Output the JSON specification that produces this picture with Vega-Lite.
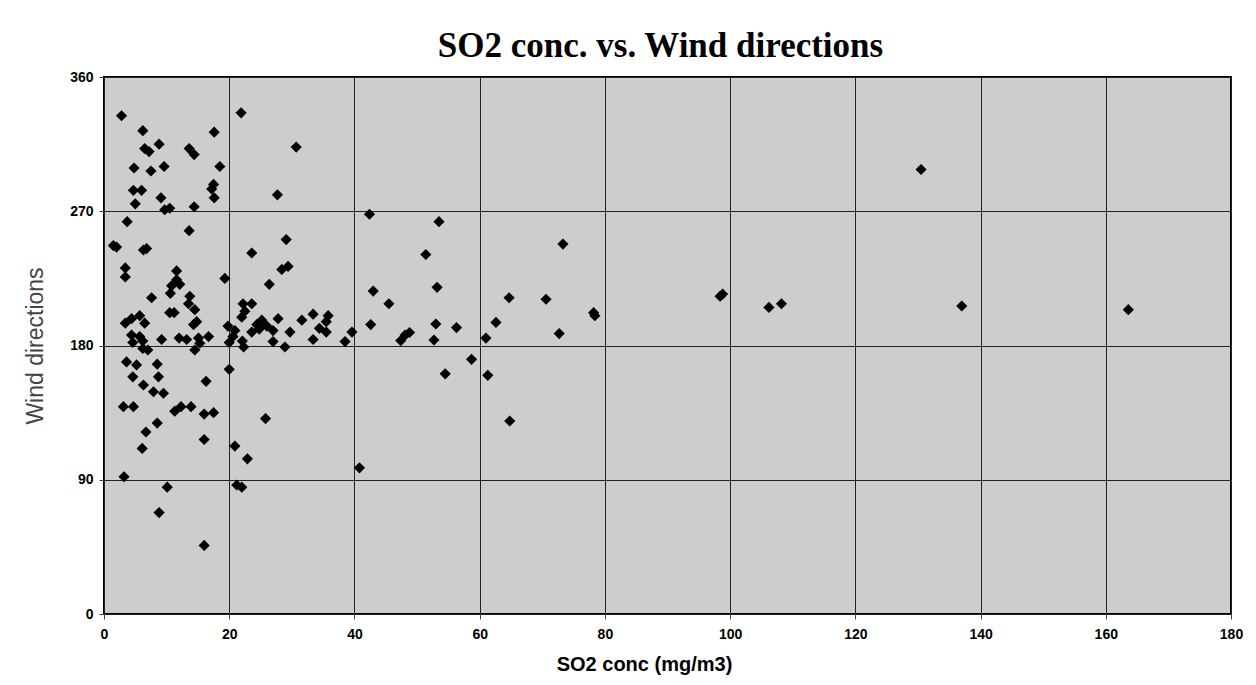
{
  "$schema": "https://vega.github.io/schema/vega-lite/v6.json",
  "width": 1127,
  "height": 537,
  "autosize": {"type": "none"},
  "padding": {"left": 104, "top": 77, "right": 25, "bottom": 71},
  "background": "white",
  "title": {
    "text": "SO2 conc. vs. Wind directions",
    "font": "Liberation Serif",
    "fontSize": 35,
    "fontWeight": "bold",
    "color": "black",
    "anchor": "middle",
    "offset": 6,
    "dx": -7
  },
  "config": {
    "view": {"fill": "#cdcdcd", "stroke": "black", "strokeWidth": 2},
    "axis": {
      "grid": true,
      "gridColor": "#222222",
      "gridWidth": 1,
      "gridOpacity": 1,
      "domain": false,
      "ticks": true,
      "tickColor": "#444444",
      "tickSize": 5,
      "labelFlush": false,
      "labelFont": "Liberation Sans Narrow, Liberation Sans, sans-serif",
      "labelFontWeight": "bold",
      "labelFontSize": 14,
      "labelColor": "black"
    }
  },
  "data": {
    "values": [
      {"so2": 2.8, "dir": 334}, {"so2": 6.2, "dir": 324}, {"so2": 17.6, "dir": 323},
      {"so2": 6.5, "dir": 312}, {"so2": 7.2, "dir": 310}, {"so2": 8.8, "dir": 315},
      {"so2": 13.6, "dir": 312}, {"so2": 14.4, "dir": 308}, {"so2": 4.8, "dir": 299},
      {"so2": 7.5, "dir": 297}, {"so2": 9.6, "dir": 300}, {"so2": 18.5, "dir": 300},
      {"so2": 4.7, "dir": 284}, {"so2": 6.0, "dir": 284}, {"so2": 5.0, "dir": 275},
      {"so2": 17.5, "dir": 288}, {"so2": 17.2, "dir": 285}, {"so2": 17.6, "dir": 279},
      {"so2": 9.1, "dir": 279}, {"so2": 9.7, "dir": 271}, {"so2": 10.5, "dir": 272},
      {"so2": 14.4, "dir": 273}, {"so2": 3.7, "dir": 263}, {"so2": 13.6, "dir": 257},
      {"so2": 1.5, "dir": 247}, {"so2": 2.0, "dir": 246}, {"so2": 6.3, "dir": 244},
      {"so2": 6.8, "dir": 245}, {"so2": 3.4, "dir": 232}, {"so2": 3.4, "dir": 226},
      {"so2": 11.6, "dir": 230}, {"so2": 11.6, "dir": 224}, {"so2": 10.8, "dir": 220},
      {"so2": 12.1, "dir": 221}, {"so2": 19.3, "dir": 225}, {"so2": 10.6, "dir": 215},
      {"so2": 13.7, "dir": 213}, {"so2": 13.5, "dir": 208}, {"so2": 14.5, "dir": 204},
      {"so2": 7.6, "dir": 212}, {"so2": 10.5, "dir": 202}, {"so2": 11.2, "dir": 202},
      {"so2": 14.8, "dir": 196}, {"so2": 14.3, "dir": 194}, {"so2": 3.4, "dir": 195},
      {"so2": 4.4, "dir": 198}, {"so2": 5.7, "dir": 200}, {"so2": 6.5, "dir": 195},
      {"so2": 4.4, "dir": 187}, {"so2": 5.7, "dir": 186}, {"so2": 4.6, "dir": 182},
      {"so2": 6.2, "dir": 183}, {"so2": 7.0, "dir": 177}, {"so2": 6.2, "dir": 178},
      {"so2": 9.2, "dir": 184}, {"so2": 12.0, "dir": 185}, {"so2": 13.2, "dir": 184},
      {"so2": 15.1, "dir": 185}, {"so2": 15.3, "dir": 181.5}, {"so2": 14.5, "dir": 177},
      {"so2": 16.7, "dir": 186}, {"so2": 3.6, "dir": 169}, {"so2": 5.2, "dir": 167},
      {"so2": 8.5, "dir": 167.5}, {"so2": 4.6, "dir": 159}, {"so2": 8.7, "dir": 159},
      {"so2": 16.3, "dir": 156}, {"so2": 6.3, "dir": 153.5}, {"so2": 7.9, "dir": 149},
      {"so2": 9.5, "dir": 148}, {"so2": 3.1, "dir": 139}, {"so2": 4.7, "dir": 139},
      {"so2": 11.3, "dir": 136}, {"so2": 12.3, "dir": 139}, {"so2": 13.9, "dir": 139},
      {"so2": 16.0, "dir": 134}, {"so2": 17.5, "dir": 135}, {"so2": 8.5, "dir": 128},
      {"so2": 6.7, "dir": 122}, {"so2": 16.0, "dir": 117}, {"so2": 6.1, "dir": 111},
      {"so2": 3.2, "dir": 92}, {"so2": 10.1, "dir": 85}, {"so2": 8.8, "dir": 68},
      {"so2": 16.0, "dir": 46},
      {"so2": 21.9, "dir": 336}, {"so2": 30.7, "dir": 313}, {"so2": 27.7, "dir": 281},
      {"so2": 29.1, "dir": 251}, {"so2": 23.6, "dir": 242}, {"so2": 28.4, "dir": 231},
      {"so2": 29.4, "dir": 233}, {"so2": 26.4, "dir": 221}, {"so2": 22.2, "dir": 208},
      {"so2": 23.6, "dir": 208}, {"so2": 22.5, "dir": 203}, {"so2": 22.0, "dir": 199},
      {"so2": 24.4, "dir": 194}, {"so2": 23.6, "dir": 189}, {"so2": 25.2, "dir": 197},
      {"so2": 26.0, "dir": 193}, {"so2": 24.8, "dir": 191}, {"so2": 27.8, "dir": 198},
      {"so2": 27.0, "dir": 190}, {"so2": 29.7, "dir": 189}, {"so2": 31.6, "dir": 197},
      {"so2": 33.4, "dir": 201}, {"so2": 35.8, "dir": 200}, {"so2": 35.5, "dir": 196},
      {"so2": 34.4, "dir": 191.5}, {"so2": 35.5, "dir": 189}, {"so2": 19.8, "dir": 193},
      {"so2": 20.9, "dir": 190}, {"so2": 20.6, "dir": 186}, {"so2": 20.0, "dir": 182},
      {"so2": 22.1, "dir": 183}, {"so2": 22.3, "dir": 179}, {"so2": 27.0, "dir": 182.6},
      {"so2": 28.9, "dir": 179}, {"so2": 33.4, "dir": 184}, {"so2": 38.5, "dir": 182.6},
      {"so2": 39.6, "dir": 189}, {"so2": 20.0, "dir": 164}, {"so2": 20.9, "dir": 112.6},
      {"so2": 25.8, "dir": 131}, {"so2": 22.9, "dir": 104}, {"so2": 21.2, "dir": 86.5},
      {"so2": 22.0, "dir": 85},
      {"so2": 42.4, "dir": 268}, {"so2": 53.5, "dir": 263}, {"so2": 73.3, "dir": 248},
      {"so2": 51.4, "dir": 241}, {"so2": 43.0, "dir": 216.5}, {"so2": 53.2, "dir": 219},
      {"so2": 45.5, "dir": 208}, {"so2": 64.7, "dir": 212}, {"so2": 70.6, "dir": 211},
      {"so2": 78.4, "dir": 200}, {"so2": 78.2, "dir": 202}, {"so2": 42.6, "dir": 194},
      {"so2": 53.0, "dir": 194.4}, {"so2": 56.3, "dir": 192}, {"so2": 62.6, "dir": 195.5},
      {"so2": 48.1, "dir": 187}, {"so2": 47.4, "dir": 183.3}, {"so2": 48.8, "dir": 188.7},
      {"so2": 52.7, "dir": 183.7}, {"so2": 61.0, "dir": 185}, {"so2": 72.7, "dir": 188},
      {"so2": 58.7, "dir": 170.7}, {"so2": 54.5, "dir": 161}, {"so2": 61.3, "dir": 160},
      {"so2": 64.8, "dir": 129.4}, {"so2": 40.8, "dir": 98}, {"so2": 98.4, "dir": 213},
      {"so2": 98.8, "dir": 214.5}, {"so2": 106.2, "dir": 205.5}, {"so2": 108.2, "dir": 208},
      {"so2": 137.0, "dir": 206.5}, {"so2": 163.6, "dir": 204}, {"so2": 130.5, "dir": 298}
    ]
  },
  "mark": {"type": "point", "shape": "diamond", "filled": true, "color": "black", "opacity": 1, "size": 125},
  "encoding": {
    "x": {
      "field": "so2",
      "type": "quantitative",
      "scale": {"domain": [0, 180], "nice": false, "zero": true},
      "axis": {
        "values": [0, 20, 40, 60, 80, 100, 120, 140, 160, 180],
        "title": "SO2 conc (mg/m3)",
        "titleFont": "Liberation Sans Narrow, Liberation Sans, sans-serif",
        "titleFontWeight": "bold",
        "titleFontSize": 20,
        "titleColor": "black",
        "titleX": 540,
        "titleY": 56,
        "titleAlign": "center",
        "titleBaseline": "alphabetic",
        "labelPadding": 8
      }
    },
    "y": {
      "field": "dir",
      "type": "quantitative",
      "scale": {"domain": [0, 360], "nice": false},
      "axis": {
        "values": [0, 90, 180, 270, 360],
        "title": "Wind directions",
        "titleFont": "Liberation Sans Narrow, Liberation Sans, sans-serif",
        "titleFontWeight": "normal",
        "titleFontSize": 23,
        "titleColor": "#444444",
        "titlePadding": 22,
        "labelPadding": 6
      }
    }
  }
}
